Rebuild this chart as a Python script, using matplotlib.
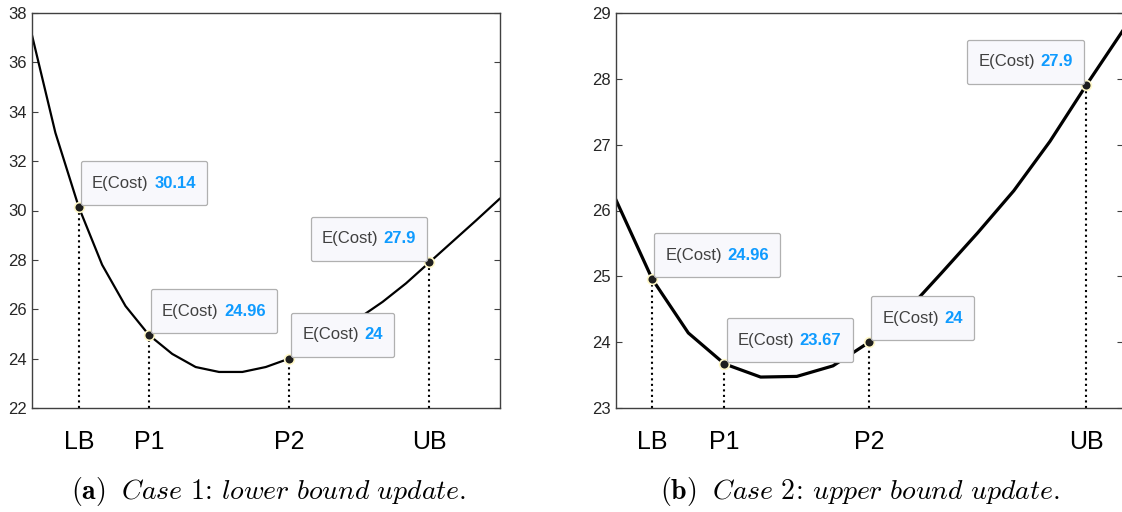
import matplotlib
matplotlib.use('Agg')
import matplotlib.pyplot as plt
from matplotlib.offsetbox import TextArea, HPacker, VPacker, DrawingArea, AnnotationBbox

plt.rcParams['font.family'] = ['Liberation Sans', 'DejaVu Sans']
plt.rcParams['mathtext.fontset'] = 'cm'

# case 1: lower bound update
cost_a = [37.1, 33.15, 30.14, 27.8, 26.13, 24.96, 24.19, 23.66, 23.46, 23.46, 23.66,
          24.0, 24.5, 25.05, 25.65, 26.3, 27.05, 27.9, 28.75, 29.6, 30.47]
idx_a = [2, 5, 11, 17]

# case 2: upper bound update
cost_b = [26.16, 24.96, 24.14, 23.67, 23.47, 23.48, 23.64, 24.0, 24.45, 25.05,
          25.66, 26.3, 27.05, 27.9, 28.72]
idx_b = [1, 3, 7, 13]

names = ['LB', 'P1', 'P2', 'UB']
labels_a = ['30.14', '24.96', '24', '27.9']
labels_b = ['24.96', '23.67', '24', '27.9']

fig = plt.figure(figsize=(11.22, 5.12), dpi=100)
ax1 = fig.add_axes([32 / 1122, 104 / 512, 468 / 1122, 395 / 512])
ax2 = fig.add_axes([616 / 1122, 104 / 512, 507 / 1122, 395 / 512])


def datatip(ax, x, y, val, left=True):
    t1 = TextArea('E(Cost)', textprops=dict(color='#404040', size=12))
    t2 = TextArea(val, textprops=dict(color='#0f9bff', size=12, weight='bold'))
    row = HPacker(children=[t1, t2], pad=0, sep=4, align='center')
    box = VPacker(children=[DrawingArea(1, 2.5), row, DrawingArea(1, 2.5)],
                  pad=8, sep=0, align='center')
    if left:
        off, align = (1.5, 1.2), (0, 0)
    else:
        off, align = (-1.5, 1.2), (1, 0)
    ab = AnnotationBbox(box, (x, y), xybox=off, boxcoords='offset points',
                        box_alignment=align, pad=0,
                        bboxprops=dict(boxstyle='round,pad=0,rounding_size=0.15',
                                       fc='#f8f8fc', ec='#b0b0b0', lw=0.9))
    ax.add_artist(ab)


for ax, cost, idx, labs, ylim, lw in [(ax1, cost_a, idx_a, labels_a, (22, 38), 1.6),
                                      (ax2, cost_b, idx_b, labels_b, (23, 29), 2.3)]:
    xs = list(range(len(cost)))
    ax.plot(xs, cost, color='black', lw=lw, zorder=2)
    for i in idx:
        ax.vlines(i, ylim[0], cost[i], colors='black', linestyles=':', lw=1.5, zorder=1)
    ax.plot(idx, [cost[i] for i in idx], 'o', ms=7, mfc='#1e1e1e', mec='#fff8c8',
            mew=1.2, zorder=3)
    for k, i in enumerate(idx):
        datatip(ax, i, cost[i], labs[k], left=(k != 3))
    ax.set_xlim(0, len(cost) - 1 + 0.02)
    ax.set_ylim(*ylim)
    ax.set_xticks(idx)
    ax.set_xticklabels(names, fontsize=18, color='black')
    ax.tick_params(axis='x', length=0, pad=16)
    ax.tick_params(axis='y', direction='in', right=True, length=4, labelsize=12,
                   labelcolor='#262626', color='#404040', pad=4)
    for s in ax.spines.values():
        s.set_color('#404040')
        s.set_linewidth(1.0)

ax1.set_yticks(range(22, 39, 2))
ax2.set_yticks(range(23, 30))

fig.text(269 / 1122, 1 - 491 / 512,
         r'$\mathbf{(a)}$  $\mathit{Case\ 1\!:\!\ lower\ bound\ update.}$',
         ha='center', va='center', fontsize=20)
fig.text(860 / 1122, 1 - 491 / 512,
         r'$\mathbf{(b)}$  $\mathit{Case\ 2\!:\!\ upper\ bound\ update.}$',
         ha='center', va='center', fontsize=20)

fig.savefig('out.png', dpi=100, facecolor='white')
